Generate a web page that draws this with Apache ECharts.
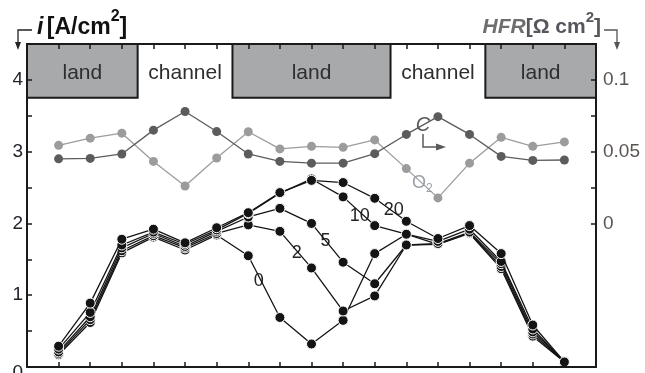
<!DOCTYPE html>
<html>
<head>
<meta charset="utf-8">
<script src="https://cdn.jsdelivr.net/npm/echarts@6/dist/echarts.min.js"></script>
<style>
  html, body { margin: 0; padding: 0; background: #fff; }
  #chart { width: 645px; height: 373px; }
</style>
</head>
<body>
<div id="chart"></div>
<script>
// Measurement positions across the cell (land / channel pattern)
const positions = [1, 2, 3, 4, 5, 6, 7, 8, 9, 10, 11, 12, 13, 14, 15, 16, 17];

// Local current density i [A/cm2] for each curve
const seriesNames = ['0', '2', '5', '10', '20'];
const current0  = [0.17, 0.62, 1.59, 1.81, 1.63, 1.84, 1.55, 0.69, 0.32, 0.65, 1.58, 1.85, 1.71, 1.86, 1.37, 0.43, 0.07];
const current2  = [0.19, 0.66, 1.62, 1.83, 1.66, 1.86, 1.98, 1.89, 1.38, 0.78, 0.99, 1.70, 1.71, 1.87, 1.40, 0.46, 0.07];
const current5  = [0.21, 0.70, 1.66, 1.86, 1.68, 1.89, 2.09, 2.21, 2.00, 1.46, 1.16, 1.70, 1.72, 1.88, 1.44, 0.49, 0.08];
const current10 = [0.25, 0.76, 1.70, 1.88, 1.71, 1.91, 2.14, 2.42, 2.62, 2.37, 1.97, 1.85, 1.75, 1.92, 1.47, 0.53, 0.07];
const current20 = [0.29, 0.89, 1.78, 1.92, 1.73, 1.94, 2.15, 2.43, 2.60, 2.57, 2.35, 2.03, 1.79, 1.97, 1.58, 0.585, 0.07];
const currents = [current0, current2, current5, current10, current20];

// High-frequency resistance HFR [Ω cm2]
const hfrC  = [0.0450, 0.0453, 0.0484, 0.0650, 0.0780, 0.0640, 0.0484, 0.0432, 0.0420, 0.0420, 0.0486, 0.0620, 0.0744, 0.0620, 0.0467, 0.0439, 0.0442];
const hfrO2 = [0.0544, 0.0594, 0.0629, 0.0432, 0.0261, 0.0456, 0.0639, 0.0519, 0.0537, 0.0530, 0.0582, 0.0382, 0.0178, 0.0420, 0.0600, 0.0537, 0.0568];

// Axis tick labels
const leftLabels = [0, 1, 2, 3, 4];
const rightLabels = [0, 0.05, 0.1];
const rightTicks = [0, 0.025, 0.05, 0.075, 0.1];

// Land / channel regions along the x axis
const regionNames = ['land', 'channel', 'land', 'channel', 'land'];
const regionEdges = [0, 3.5, 6.5, 11.5, 14.5, 18];
const bandBottom = 3.75;
const bandTop = 4.5;

// Curve label anchors [x, i]
const curveLabelAnchors = [[7.33, 1.2], [8.53, 1.59], [9.44, 1.76], [10.53, 2.11], [11.6, 2.19]];

const chart = echarts.init(document.getElementById('chart'), null, { renderer: 'canvas' });

const FONT = 'Liberation Sans, Arial, Helvetica, sans-serif';
const AXIS_COLOR = '#1a1a1a';

function pairs(vals) { return positions.map((x, k) => [x, vals[k]]); }

const areaData = regionNames.map((name, k) => {
  const isLand = name === 'land';
  return [
    {
      name: name,
      xAxis: regionEdges[k], yAxis: bandBottom,
      itemStyle: isLand
        ? { color: '#a8a9ab', borderColor: AXIS_COLOR, borderWidth: 2 }
        : { color: 'rgba(0,0,0,0)', borderWidth: 0 }
    },
    { xAxis: regionEdges[k + 1], yAxis: bandTop }
  ];
});

const currentSeries = currents.map((vals, k) => ({
  name: seriesNames[k],
  type: 'line',
  xAxisIndex: 0,
  yAxisIndex: 0,
  data: pairs(vals),
  symbol: 'circle',
  symbolSize: 10,
  z: 5 + k,
  itemStyle: { color: '#141414', borderColor: '#ffffff', borderWidth: 1 },
  lineStyle: { color: '#141414', width: 1.3 },
  emphasis: { disabled: true },
  animation: false,
  markPoint: {
    symbol: 'circle',
    symbolSize: 1,
    itemStyle: { color: 'rgba(0,0,0,0)' },
    label: {
      show: true, position: 'inside', formatter: seriesNames[k],
      fontFamily: FONT, fontSize: 18, color: '#262626',
      backgroundColor: '#ffffff', padding: [0, 1]
    },
    data: [{ coord: curveLabelAnchors[k] }]
  },
  markArea: k === 0 ? {
    silent: true,
    label: { show: true, position: 'inside', fontFamily: FONT, fontSize: 21, color: '#2e2e2e', offset: [0, 2] },
    data: areaData
  } : undefined
}));

const hfrSeries = [
  { name: 'O2', data: hfrO2, color: '#9c9c9c' },
  { name: 'C', data: hfrC, color: '#5c5c5c' }
].map((s, k) => ({
  name: s.name,
  type: 'line',
  xAxisIndex: 0,
  yAxisIndex: 1,
  data: pairs(s.data),
  symbol: 'circle',
  symbolSize: 9,
  z: 3 + k,
  itemStyle: { color: s.color },
  lineStyle: { color: s.color, width: 1.3 },
  emphasis: { disabled: true },
  animation: false
}));

const xAxisBase = {
  type: 'value', min: 0, max: 18, interval: 1, z: 10,
  axisLine: { show: true, onZero: false, lineStyle: { color: AXIS_COLOR, width: 2 } },
  axisTick: { show: true, inside: true, length: 5, lineStyle: { color: AXIS_COLOR, width: 1.5 } },
  axisLabel: { show: false },
  splitLine: { show: false }
};

const option = {
  animation: false,
  backgroundColor: '#ffffff',
  grid: { left: 27, right: 49, top: 44, bottom: 6, containLabel: false, outerBoundsMode: 'none' },
  xAxis: [
    Object.assign({ position: 'bottom' }, xAxisBase),
    Object.assign({ position: 'top' }, xAxisBase)
  ],
  yAxis: [
    {
      type: 'value', position: 'left', min: 0, max: 4.5, interval: 0.5, z: 10,
      axisLine: { show: true, onZero: false, lineStyle: { color: AXIS_COLOR, width: 2 } },
      axisTick: { show: true, inside: true, length: 5, lineStyle: { color: AXIS_COLOR, width: 1.5 } },
      axisLabel: {
        show: true, margin: 4, fontFamily: FONT, fontSize: 19, color: '#22242c',
        customValues: leftLabels,
        formatter: v => (v === 0 ? '{low|0}' : (leftLabels.indexOf(v) >= 0 ? String(v) : '')),
        rich: {
          low: { fontFamily: FONT, fontSize: 19, color: '#22242c', padding: [12, 0, 0, 0] }
        }
      },
      splitLine: { show: false }
    },
    {
      type: 'value', position: 'right', min: -0.1, max: 0.125, interval: 0.025, z: 10,
      axisLine: { show: true, onZero: false, lineStyle: { color: AXIS_COLOR, width: 2 } },
      axisTick: {
        show: true, inside: true, length: 5, customValues: rightTicks,
        lineStyle: { color: AXIS_COLOR, width: 1.5 }
      },
      axisLabel: {
        show: true, margin: 7, fontFamily: FONT, fontSize: 19, color: '#5a5552',
        customValues: rightLabels,
        formatter: v => String(v)
      },
      splitLine: { show: false }
    }
  ],
  series: hfrSeries.concat(currentSeries),
  graphic: [
    // left axis title
    {
      type: 'text', left: 37, top: 9, z: 20,
      style: {
        text: '{i|i} {b|[A/cm}{s|2}{b|]}',
        rich: {
          i: { fontFamily: FONT, fontSize: 23, fontWeight: 'bold', fontStyle: 'italic', fill: '#111', verticalAlign: 'bottom', lineHeight: 30 },
          b: { fontFamily: FONT, fontSize: 23, fontWeight: 'bold', fill: '#111', verticalAlign: 'bottom', lineHeight: 30 },
          s: { fontFamily: FONT, fontSize: 16, fontWeight: 'bold', fill: '#111', verticalAlign: 'top', lineHeight: 30 }
        }
      }
    },
    // right axis title
    {
      type: 'text', right: 44, top: 10, z: 20,
      style: {
        text: '{h|HFR}{b|[Ω cm}{s|2}{b|]}',
        rich: {
          h: { fontFamily: FONT, fontSize: 21, fontWeight: 'bold', fontStyle: 'italic', fill: '#6e6e6e', verticalAlign: 'bottom', lineHeight: 28 },
          b: { fontFamily: FONT, fontSize: 21, fontWeight: 'bold', fill: '#55575c', verticalAlign: 'bottom', lineHeight: 28 },
          s: { fontFamily: FONT, fontSize: 15, fontWeight: 'bold', fill: '#55575c', verticalAlign: 'top', lineHeight: 28 }
        }
      }
    },
    // left title bracket arrow
    { type: 'polyline', z: 20, shape: { points: [[32, 30], [18, 30], [18, 43]] }, style: { stroke: '#222', lineWidth: 1.3, fill: null } },
    { type: 'polygon', z: 20, shape: { points: [[15, 42], [21, 42], [18, 50]] }, style: { fill: '#222' } },
    // right title bracket arrow
    { type: 'polyline', z: 20, shape: { points: [[604, 30], [617, 30], [617, 43]] }, style: { stroke: '#555', lineWidth: 1.3, fill: null } },
    { type: 'polygon', z: 20, shape: { points: [[614, 42], [620, 42], [617, 50]] }, style: { fill: '#555' } },
    // C label with arrow
    {
      type: 'text', x: 423, y: 125, z: 20,
      style: { text: 'C', fontFamily: FONT, fontSize: 20, fontStyle: 'italic', fill: '#5a5a5a', align: 'center', verticalAlign: 'middle' }
    },
    { type: 'polyline', z: 20, shape: { points: [[423, 134], [423, 147], [437, 147]] }, style: { stroke: '#5a5a5a', lineWidth: 1.5, fill: null } },
    { type: 'polygon', z: 20, shape: { points: [[436, 143.5], [436, 150.5], [446, 147]] }, style: { fill: '#5a5a5a' } },
    // O2 label
    {
      type: 'text', x: 412, y: 183, z: 20,
      style: { text: 'O', fontFamily: FONT, fontSize: 18, fill: '#9aa0a8', align: 'left', verticalAlign: 'middle' }
    },
    {
      type: 'text', x: 426, y: 189, z: 20,
      style: { text: '2', fontFamily: FONT, fontSize: 12, fill: '#9aa0a8', align: 'left', verticalAlign: 'middle' }
    }
  ]
};

chart.setOption(option);
</script>
</body>
</html>
